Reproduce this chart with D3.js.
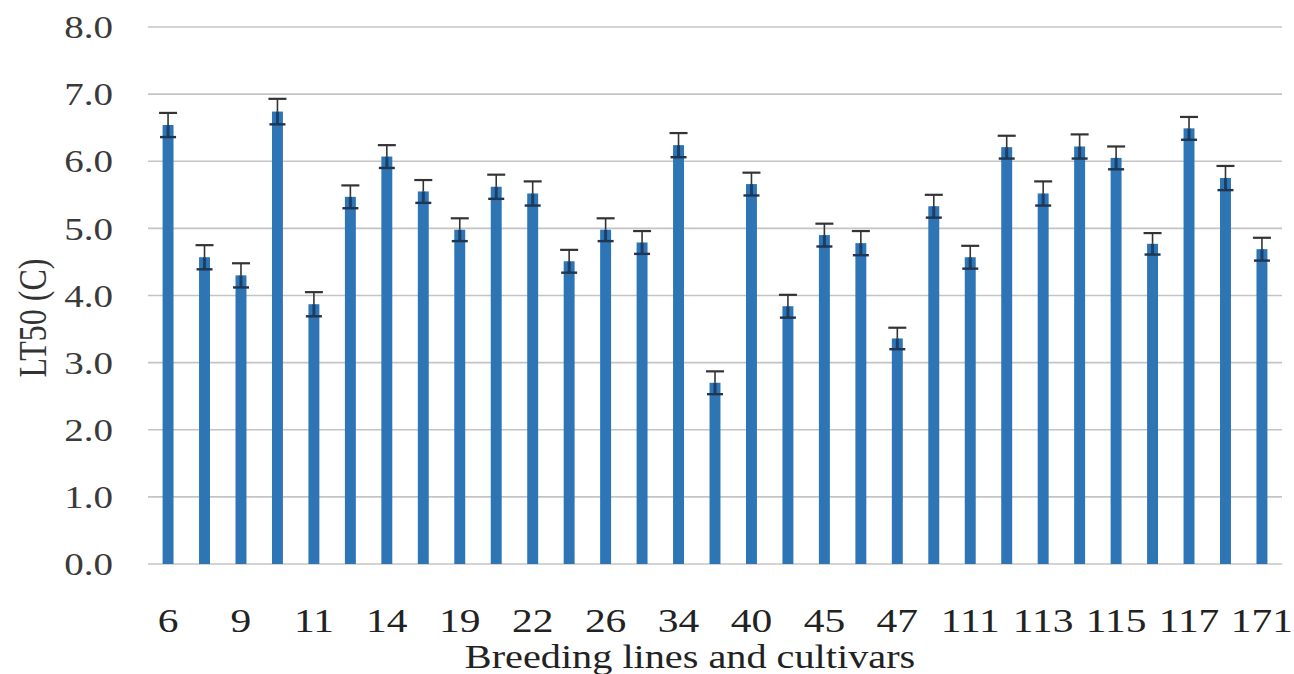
<!DOCTYPE html>
<html>
<head>
<meta charset="utf-8">
<script src="https://cdn.jsdelivr.net/npm/d3@7"></script>
<style>
  body { margin: 0; background: #fff; }
  svg { display: block; }
</style>
</head>
<body>
<div id="chart"></div>
<script>
// breeding lines / cultivars, only every other name is printed on the axis
var labels = ["6", "", "9", "", "11", "", "14", "", "19", "", "22", "", "26", "", "34", "",
              "40", "", "45", "", "47", "", "111", "", "113", "", "115", "", "117", "", "171"]
var lt50 = [6.54, 4.57, 4.30, 6.74, 3.87, 5.47, 6.07, 5.55, 4.98, 5.62, 5.52, 4.51, 4.98, 4.79, 6.24, 2.70,
            5.66, 3.84, 4.90, 4.78, 3.36, 5.33, 4.57, 6.21, 5.52, 6.22, 6.05, 4.77, 6.49, 5.75, 4.69]
var errs = [0.18, 0.18, 0.18, 0.19, 0.18, 0.17, 0.17, 0.17, 0.17, 0.18, 0.18, 0.17, 0.17, 0.17, 0.18, 0.17,
            0.17, 0.17, 0.17, 0.18, 0.16, 0.17, 0.17, 0.17, 0.18, 0.18, 0.17, 0.16, 0.17, 0.18, 0.17]
var yTicks = [0, 1, 2, 3, 4, 5, 6, 7, 8]

var width = 1294
var height = 674
var font = "'Liberation Serif', 'Times New Roman', serif"
var stretch = 1.22  // the picture is a bit wider than it is tall

var svg = d3.select("#chart")
  .append("svg")
    .attr("width", width)
    .attr("height", height)

var x = d3.scaleBand()
  .domain(d3.range(lt50.length))
  .range([148, 1282])
  .paddingInner(0.7)
  .paddingOuter(0.4)

var y = d3.scaleLinear()
  .domain([0, 8])
  .range([564, 27])

// gridlines
svg.append("g")
  .selectAll("line")
  .data(yTicks)
  .enter()
  .append("line")
    .attr("x1", 148)
    .attr("x2", 1282)
    .attr("y1", function(d) { return y(d) })
    .attr("y2", function(d) { return y(d) })
    .attr("stroke", "#c4c4c4")
    .attr("stroke-width", 1.6)

// y tick labels
svg.append("g")
  .selectAll("text")
  .data(yTicks)
  .enter()
  .append("text")
    .attr("transform", function(d) { return "translate(113," + y(d) + ")scale(" + stretch + ",1)" })
    .attr("dy", "0.35em")
    .attr("text-anchor", "end")
    .attr("font-family", font)
    .attr("font-size", "32px")
    .attr("fill", "#3a3a3a")
    .text(function(d) { return d3.format(".1f")(d) })

// bars
svg.append("g")
  .selectAll("rect")
  .data(lt50)
  .enter()
  .append("rect")
    .attr("x", function(d, i) { return x(i) })
    .attr("y", function(d) { return y(d) })
    .attr("width", x.bandwidth())
    .attr("height", function(d) { return y(0) - y(d) })
    .attr("fill", "#2e75b6")

// error bars
var eb = svg.append("g")
  .selectAll("g")
  .data(lt50)
  .enter()
  .append("g")
    .attr("transform", function(d, i) { return "translate(" + (x(i) + x.bandwidth() / 2) + ",0)" })

eb.append("line")
  .attr("y1", function(d, i) { return y(d + errs[i]) })
  .attr("y2", function(d) { return y(d) })
  .attr("stroke", "#333")
  .attr("stroke-width", 1.6)

eb.append("line")
  .attr("y1", function(d) { return y(d) })
  .attr("y2", function(d, i) { return y(d - errs[i]) })
  .attr("stroke", "#1b3f66")
  .attr("stroke-width", 3)

eb.append("line")
  .attr("x1", -9)
  .attr("x2", 9)
  .attr("y1", function(d, i) { return y(d + errs[i]) })
  .attr("y2", function(d, i) { return y(d + errs[i]) })
  .attr("stroke", "#333")
  .attr("stroke-width", 2.2)

eb.append("line")
  .attr("x1", -8)
  .attr("x2", 8)
  .attr("y1", function(d, i) { return y(d - errs[i]) })
  .attr("y2", function(d, i) { return y(d - errs[i]) })
  .attr("stroke", "#1f3550")
  .attr("stroke-width", 2.4)

// x tick labels
svg.append("g")
  .selectAll("text")
  .data(labels)
  .enter()
  .append("text")
    .attr("transform", function(d, i) { return "translate(" + (x(i) + x.bandwidth() / 2) + ",632)scale(" + stretch + ",1)" })
    .attr("text-anchor", "middle")
    .attr("font-family", font)
    .attr("font-size", "34px")
    .attr("fill", "#222")
    .text(function(d) { return d })

// axis titles
svg.append("text")
  .attr("transform", "translate(690,668)scale(" + stretch + ",1)")
  .attr("text-anchor", "middle")
  .attr("font-family", font)
  .attr("font-size", "33px")
  .attr("fill", "#222")
  .text("Breeding lines and cultivars")

svg.append("text")
  .attr("transform", "translate(46,318)scale(" + stretch + ",1)rotate(-90)")
  .attr("text-anchor", "middle")
  .attr("font-family", font)
  .attr("font-size", "32px")
  .attr("fill", "#333")
  .text("LT50 (C)")
</script>
</body>
</html>
